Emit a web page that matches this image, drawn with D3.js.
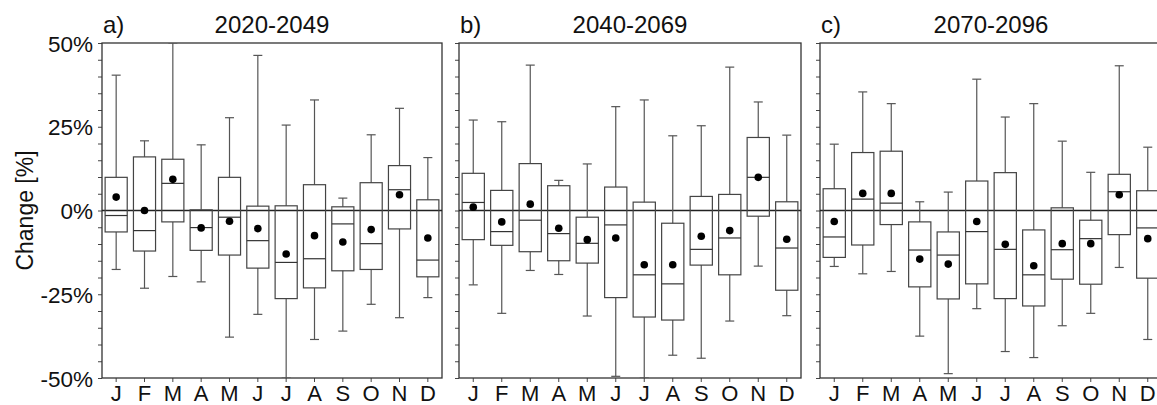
<!DOCTYPE html>
<html>
<head>
<meta charset="utf-8">
<script src="https://cdn.jsdelivr.net/npm/d3@7"></script>
<style>
  body { margin: 0; background: #fff; }
  text { font-family: "Liberation Sans", Arial, sans-serif; fill: #111; }
</style>
</head>
<body>
<div id="vis-container"></div>
<script>
// width and height
const w = 1157
const h = 405

const months = ["J", "F", "M", "A", "M", "J", "J", "A", "S", "O", "N", "D"]
const yTicks = [50, 25, 0, -25, -50]
const panelLabels = ["a)", "b)", "c)"]
const periods = ["2020-2049", "2040-2069", "2070-2096"]

// per panel: whisker low, box low, median, box high, whisker high, mean (in %)
const lowA    = [-17.6, -23.2, -19.7, -21.3, -37.8, -31.0, -50.0, -38.5, -36.0, -28.0, -32.0, -26.0]
const q1A     = [-6.4, -12.1, -3.4, -11.9, -13.3, -17.2, -26.3, -23.1, -18.0, -17.6, -5.5, -19.8]
const medA    = [-1.5, -6.0, 8.1, -5.1, -2.0, -9.0, -15.5, -14.4, -4.0, -9.9, 6.2, -14.8]
const q3A     = [9.9, 16.0, 15.3, 0.2, 9.9, 1.3, 1.4, 7.7, 1.1, 8.3, 13.4, 3.2]
const highA   = [40.4, 20.8, 50.0, 19.6, 27.7, 46.3, 25.5, 33.0, 3.7, 22.6, 30.5, 15.8]
const meanA   = [4.0, 0.0, 9.3, -5.2, -3.2, -5.4, -13.0, -7.5, -9.4, -5.7, 4.7, -8.2]

const lowB    = [-22.2, -30.7, -17.9, -19.1, -31.5, -49.5, -50.0, -43.2, -44.1, -33.0, -16.6, -31.4]
const q1B     = [-8.7, -10.4, -12.3, -15.0, -15.7, -26.0, -31.8, -32.7, -16.3, -19.2, -1.7, -23.8]
const medB    = [2.4, -6.3, -2.9, -6.9, -9.8, -4.3, -19.2, -21.9, -11.6, -8.2, 9.9, -11.2]
const q3B     = [11.1, 6.0, 14.0, 7.4, -2.0, 7.0, 2.5, -3.8, 4.2, 4.8, 21.8, 2.6]
const highB   = [27.0, 26.5, 43.4, 9.0, 13.9, 31.0, 33.0, 22.3, 25.3, 42.8, 32.4, 22.5]
const meanB   = [1.0, -3.4, 1.9, -5.3, -8.7, -8.2, -16.2, -16.2, -7.7, -6.0, 9.9, -8.6]

const lowC    = [-16.7, -18.9, -18.2, -37.5, -48.7, -29.3, -42.1, -43.9, -34.4, -30.7, -17.0, -38.5]
const q1C     = [-14.0, -10.3, -4.2, -22.8, -26.4, -21.9, -26.3, -28.5, -20.5, -22.0, -7.2, -20.2]
const medC    = [-7.9, 3.4, 2.2, -11.8, -13.3, -6.3, -11.6, -19.2, -11.7, -8.4, 5.6, -5.2]
const q3C     = [6.5, 17.3, 17.7, -3.4, -6.4, 8.8, 11.3, -5.8, 0.8, -2.9, 10.8, 5.9]
const highC   = [19.8, 35.4, 31.9, 2.6, 5.5, 39.2, 27.9, 31.9, 20.7, 11.4, 43.2, 18.9]
const meanC   = [-3.3, 5.1, 5.1, -14.5, -16.0, -3.3, -10.1, -16.5, -9.9, -9.9, 4.7, -8.4]

const panelData = [
    [lowA, q1A, medA, q3A, highA, meanA],
    [lowB, q1B, medB, q3B, highB, meanB],
    [lowC, q1C, medC, q3C, highC, meanC]
]

// panel left/right edges
const panelX = [[102, 442], [459, 801], [820, 1162]]
const plotTop = 43
const plotBottom = 378

const svg = d3.select("#vis-container")
    .append("svg")
    .attr("width", w)
    .attr("height", h)

const yScale = d3.scaleLinear()
    .domain([-50, 50])
    .range([plotBottom, plotTop])

// y label
svg.append("text")
    .attr("transform", "translate(33," + ((plotTop + plotBottom) / 2) + ") rotate(-90)")
    .style("text-anchor", "middle")
    .style("font-size", "23px")
    .text("Change [%]")

panelData.forEach(function (pd, p) {
    const x0 = panelX[p][0], x1 = panelX[p][1]

    const xScale = d3.scaleBand()
        .domain(d3.range(12))
        .range([x0, x1])
        .paddingInner(0.22)
        .paddingOuter(0.11)

    const g = svg.append("g")

    // clip so whiskers don't run off the frame
    g.append("clipPath").attr("id", "clip" + p)
        .append("rect")
        .attr("x", x0).attr("y", plotTop)
        .attr("width", x1 - x0).attr("height", plotBottom - plotTop)

    // y axis (minor every 5%)
    const yAxis = d3.axisLeft(yScale)
        .tickValues(d3.range(-50, 51, 5))
        .tickSize(4)
        .tickFormat(function (d) {
            return (p == 0 && yTicks.includes(d)) ? d + "%" : ""
        })
    const ya = g.append("g")
        .attr("transform", "translate(" + x0 + ",0)")
        .call(yAxis)
    ya.select(".domain").remove()
    ya.selectAll("line").attr("stroke", "#444")
    ya.selectAll("text")
        .style("font-size", "22.5px")
        .attr("dx", "-2")
        .attr("dy", "0.36em")

    // x axis
    const xAxis = d3.axisBottom(xScale)
        .tickSize(4)
        .tickFormat(function (d) { return months[d] })
    const xa = g.append("g")
        .attr("transform", "translate(0," + plotBottom + ")")
        .call(xAxis)
    xa.select(".domain").remove()
    xa.selectAll("line").attr("stroke", "#444")
    xa.selectAll("text")
        .style("font-size", "22px")
        .attr("y", 6)
        .attr("dy", "0.76em")

    // frame
    g.append("rect")
        .attr("x", x0).attr("y", plotTop)
        .attr("width", x1 - x0).attr("height", plotBottom - plotTop)
        .attr("fill", "none")
        .attr("stroke", "#333")
        .attr("stroke-width", 1.3)

    // zero line
    g.append("line")
        .attr("x1", x0).attr("x2", x1)
        .attr("y1", yScale(0)).attr("y2", yScale(0))
        .attr("stroke", "#222")
        .attr("stroke-width", 1.3)

    const boxes = g.append("g").attr("clip-path", "url(#clip" + p + ")")
    const bw = xScale.bandwidth()
    const cap = 4.5

    d3.range(12).forEach(function (i) {
        const cx = xScale(i) + bw / 2
        const lo = pd[0][i], q1 = pd[1][i], md = pd[2][i], q3 = pd[3][i], hi = pd[4][i], mn = pd[5][i]

        // whiskers
        boxes.append("line")
            .attr("x1", cx).attr("x2", cx)
            .attr("y1", yScale(q3)).attr("y2", yScale(hi))
            .attr("stroke", "#555").attr("stroke-width", 1.2)
        boxes.append("line")
            .attr("x1", cx).attr("x2", cx)
            .attr("y1", yScale(q1)).attr("y2", yScale(lo))
            .attr("stroke", "#555").attr("stroke-width", 1.2)
        // caps
        ;[lo, hi].forEach(function (v) {
            boxes.append("line")
                .attr("x1", cx - cap).attr("x2", cx + cap)
                .attr("y1", yScale(v)).attr("y2", yScale(v))
                .attr("stroke", "#555").attr("stroke-width", 1.2)
        })
        // box
        boxes.append("rect")
            .attr("x", xScale(i)).attr("width", bw)
            .attr("y", yScale(q3)).attr("height", yScale(q1) - yScale(q3))
            .attr("fill", "none")
            .attr("stroke", "#444").attr("stroke-width", 1.2)
        // median
        boxes.append("line")
            .attr("x1", xScale(i)).attr("x2", xScale(i) + bw)
            .attr("y1", yScale(md)).attr("y2", yScale(md))
            .attr("stroke", "#333").attr("stroke-width", 1.2)
        // mean
        boxes.append("circle")
            .attr("cx", cx).attr("cy", yScale(mn))
            .attr("r", 3.8)
            .attr("fill", "#000")
    })

    // panel label and title
    svg.append("text")
        .attr("x", x0 + 1).attr("y", 33)
        .style("font-size", "24px")
        .text(panelLabels[p])
    svg.append("text")
        .attr("x", (x0 + x1) / 2).attr("y", 33)
        .style("text-anchor", "middle")
        .style("font-size", "24px")
        .text(periods[p])
})
</script>
</body>
</html>
